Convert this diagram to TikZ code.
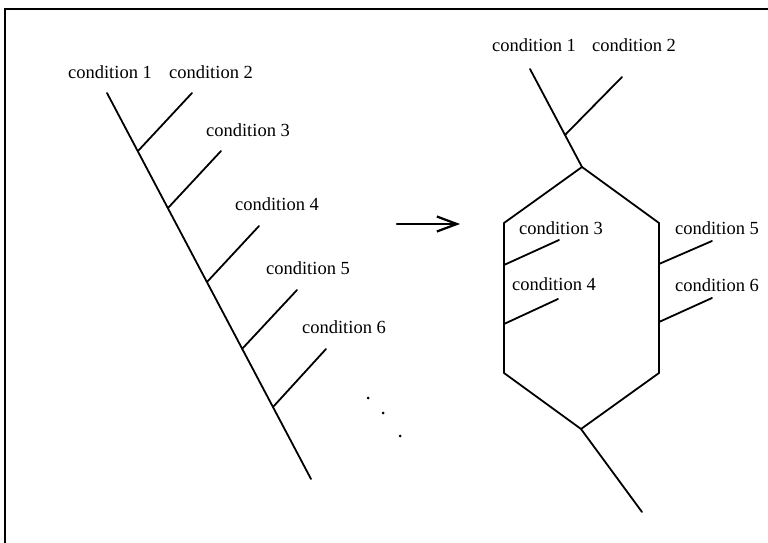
\documentclass[tikz,border=0pt]{standalone}
\usepackage{fontspec}
\setmainfont{Liberation Serif}
\usetikzlibrary{arrows.meta}

\tikzset{
  cond/.style = {font=\fontsize{18.5}{21}\selectfont, inner sep=0pt},
  edge/.style = {line width=1.8pt}
}

\begin{document}
\begin{tikzpicture}[x=1pt, y=-1pt, line cap=round]
    \useasboundingbox (0,0) rectangle (768,543);

    % frame of the scan
    \draw[line width=2pt] (768,9) -- (5,9) -- (5,543);

    % left: all conditions hang on one line
    \coordinate (ltop) at (107,93);
    \coordinate (lbot) at (311,479);
    \draw[edge] (ltop) -- (lbot);

    \foreach \jx/\jy/\ex/\ey [count=\i from 2] in
        {138/151/192/93, 168/208/221/151, 207/282/259/226, 242/349/297/290, 273/407/326/349}
    {
        \coordinate (lj\i) at (\jx,\jy);
        \coordinate (le\i) at (\ex,\ey);
        \draw[edge] (lj\i) -- (le\i);
    }

    \node[cond] (lc1) at (110,72) {condition 1};
    \node[cond] (lc2) at (211,72) {condition 2};
    \node[cond] (lc3) at (248,130) {condition 3};
    \node[cond] (lc4) at (277,204) {condition 4};
    \node[cond] (lc5) at (308,268) {condition 5};
    \node[cond] (lc6) at (344,327) {condition 6};

    \fill (368,398) circle (1.5);
    \fill (383,413) circle (1.5);
    \fill (400,436) circle (1.5);

    % arrow
    \coordinate (afrom) at (397,224);
    \coordinate (ato) at (460,224);
    \draw[line width=2.2pt, -{Straight Barb[length=20pt,width=15pt]}] (afrom) -- (ato);

    % right: the line splits into two parallel branches
    \coordinate (rtop) at (530,69);
    \coordinate (hT) at (582,167);
    \coordinate (hUR) at (659,223);
    \coordinate (hLR) at (659,373);
    \coordinate (hB) at (581,429);
    \coordinate (hLL) at (504,373);
    \coordinate (hUL) at (504,223);
    \coordinate (rbot) at (642,512);

    \draw[edge] (rtop) -- (hT);
    \draw[edge, line join=round] (hT) -- (hUR) -- (hLR) -- (hB) -- (hLL) -- (hUL) -- cycle;
    \draw[edge] (hB) -- (rbot);

    \foreach \jx/\jy/\ex/\ey [count=\i from 2] in
        {565/135/622/77, 504/265/559/240, 504/324/558/299, 659/264/712/241, 659/322/712/298}
    {
        \coordinate (rj\i) at (\jx,\jy);
        \coordinate (re\i) at (\ex,\ey);
        \draw[edge] (rj\i) -- (re\i);
    }

    \node[cond] (rc1) at (534,45) {condition 1};
    \node[cond] (rc2) at (634,45) {condition 2};
    \node[cond] (rc3) at (561,228) {condition 3};
    \node[cond] (rc4) at (554,284) {condition 4};
    \node[cond] (rc5) at (717,228) {condition 5};
    \node[cond] (rc6) at (717,285) {condition 6};
\end{tikzpicture}
\end{document}
